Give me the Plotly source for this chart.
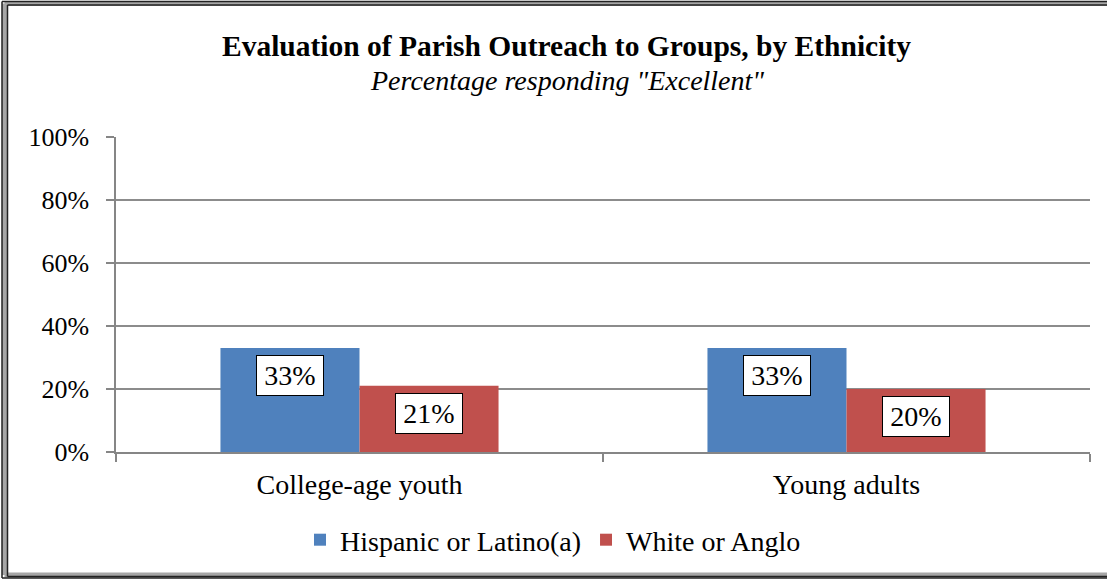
import plotly.graph_objects as go

categories = ["College-age youth", "Young adults"]
series_names = ["Hispanic or Latino(a)", "White or Anglo"]
hispanic = [33, 33]
white = [21, 20]
colors = ["#4F81BD", "#C0504D"]
y_ticks = [0, 20, 40, 60, 80, 100]
y_tick_labels = ["0%", "20%", "40%", "60%", "80%", "100%"]

W, H = 1107, 579
L, R, T, B = 116, 17, 137, 127
pw, ph = W - L - R, H - T - B

def px(x):
    return (x - L) / pw

def py(y):
    return (H - B - y) / ph

FONT = "Liberation Serif"

fig = go.Figure()
for name, vals, col in zip(series_names, [hispanic, white], colors):
    fig.add_trace(go.Bar(x=categories, y=vals, name=name, marker=dict(color=col, line=dict(width=0))))

annotations = []
bar_px = pw / len(categories) * 0.571 / 2
for i, vals in enumerate([hispanic, white]):
    shift = -bar_px / 2 if i == 0 else bar_px / 2
    for c, v in zip(categories, vals):
        annotations.append(dict(x=c, y=v, xref="x", yref="y", text=f"{v}%", showarrow=False,
                                xshift=shift, yshift=-7, yanchor="top", width=56, height=29,
                                font=dict(family=FONT, size=28, color="black"),
                                bgcolor="white", bordercolor="black", borderwidth=1, borderpad=5))

annotations.append(dict(x=px(566), y=py(46), xref="paper", yref="paper", showarrow=False,
                        text="<b>Evaluation of Parish Outreach to Groups, by Ethnicity</b>",
                        font=dict(family=FONT, size=29.5, color="black"), xanchor="center", yanchor="middle"))
annotations.append(dict(x=px(567), y=py(80), xref="paper", yref="paper", showarrow=False,
                        text="<i>Percentage responding \"Excellent\"</i>",
                        font=dict(family=FONT, size=28, color="black"), xanchor="center", yanchor="middle"))

def frame(inset_x, inset_top, bottom, color, width):
    x_end = px(1107)
    return [
        dict(type="line", xref="paper", yref="paper", x0=px(inset_x), x1=px(inset_x),
             y0=py(inset_top), y1=py(bottom), line=dict(color=color, width=width)),
        dict(type="line", xref="paper", yref="paper", x0=px(inset_x), x1=x_end,
             y0=py(inset_top), y1=py(inset_top), line=dict(color=color, width=width)),
        dict(type="line", xref="paper", yref="paper", x0=px(inset_x), x1=x_end,
             y0=py(bottom), y1=py(bottom), line=dict(color=color, width=width)),
    ]

shapes = (frame(4.5, 3.5, 575, "#a6a6a6", 5)
          + frame(2, 1.5, 578, "#222222", 1.5)
          + frame(7.5, 5, 576.5, "#222222", 1.5))

fig.update_layout(
    width=W, height=H,
    margin=dict(l=L, r=R, t=T, b=B, autoexpand=False),
    paper_bgcolor="white", plot_bgcolor="white",
    barmode="group", bargap=0.429, bargroupgap=0,
    font=dict(family=FONT, size=28, color="black"),
    showlegend=True,
    legend=dict(orientation="h", x=px(553), xanchor="center", y=py(540), yanchor="middle",
                font=dict(family=FONT, size=28, color="black"), itemwidth=30,
                bgcolor="rgba(0,0,0,0)"),
    annotations=annotations,
    shapes=shapes,
    xaxis=dict(showline=True, linecolor="#868686", linewidth=1.5, ticks="outside", ticklen=8,
               tickcolor="#868686", tickwidth=1.5, showgrid=False, tickson="boundaries",
               ticklabelstandoff=7,
               tickfont=dict(family=FONT, size=28, color="black")),
    yaxis=dict(range=[0, 100], tickvals=y_ticks, ticktext=y_tick_labels, showline=True,
               linecolor="#868686", linewidth=1.5, ticks="outside", ticklen=8, tickcolor="#868686",
               tickwidth=1.5, showgrid=True, gridcolor="#8c8c8c", gridwidth=1.5, zeroline=False,
               ticklabelstandoff=12,
               tickfont=dict(family=FONT, size=26, color="black")),
)

fig.write_html("out.html", config={"displayModeBar": False},
               post_script="document.body.style.margin='0px';document.body.style.overflow='hidden';document.documentElement.style.overflow='hidden';")
